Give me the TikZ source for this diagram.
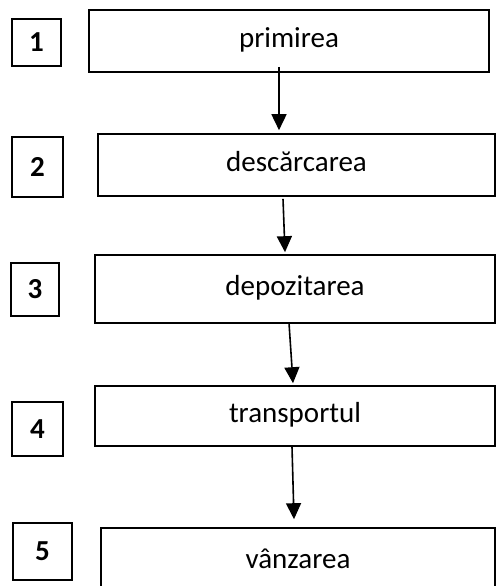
\documentclass[tikz,border=0pt]{standalone}
\usepackage{fontspec}
\setmainfont{Carlito}
\usetikzlibrary{arrows.meta}
\begin{document}
\begin{tikzpicture}[x=1pt,y=-1pt,
  frame/.style={draw, line width=1.6pt, inner sep=0pt},
  stage/.style={frame, font=\fontsize{29}{34}\selectfont, text height=13.5pt, text depth=0pt},
  num/.style={frame, font=\fontsize{29}{34}\selectfont\bfseries, text height=18.3pt, text depth=0pt},
  flow/.style={line width=1.6pt, -{Triangle[length=16pt,width=15pt]}}]
  % page area
  \path[use as bounding box] (0,0) rectangle (496,586);
  \fill[white] (0,0) rectangle (496,586);
  \clip (0,0) rectangle (496,586);

  % stages of the flow
  \node[stage, minimum width=400pt, minimum height=62pt] (b1) at (289,41)    {primirea};
  \node[stage, minimum width=397pt, minimum height=62pt] (b2) at (296.5,165) {descărcarea};
  \node[stage, minimum width=400pt, minimum height=68pt] (b3) at (295,289)   {depozitarea};
  \node[stage, minimum width=400pt, minimum height=60pt] (b4) at (295,416)   {transportul};
  \node[stage, minimum width=394pt, minimum height=67pt] (b5) at (298,561.5) {vânzarea};

  % step numbers
  \node[num, minimum width=49pt, minimum height=47pt] (n1) at (36.5,42.5)  {1};
  \node[num, minimum width=51pt, minimum height=60pt] (n2) at (37.5,167)   {2};
  \node[num, minimum width=48pt, minimum height=53pt] (n3) at (35,289.5)   {3};
  \node[num, minimum width=51pt, minimum height=54pt] (n4) at (37.5,429)   {4};
  \node[num, minimum width=59pt, minimum height=57pt] (n5) at (42.5,551.5) {5};

  % arrows between stages
  \draw[flow] ([xshift=-10pt,yshift=6pt]b1.south)    -- ([xshift=-17.5pt,yshift=3pt]b2.north);
  \draw[flow] ([xshift=-13.5pt,yshift=-2pt]b2.south) -- ([xshift=-10pt,yshift=2pt]b3.north);
  \draw[flow] ([xshift=-6pt,yshift=1pt]b3.south)     -- ([xshift=-2pt,yshift=2pt]b4.north);
  \draw[flow] ([xshift=-3pt]b4.south)                -- ([xshift=-4pt,yshift=8pt]b5.north);
\end{tikzpicture}
\end{document}
